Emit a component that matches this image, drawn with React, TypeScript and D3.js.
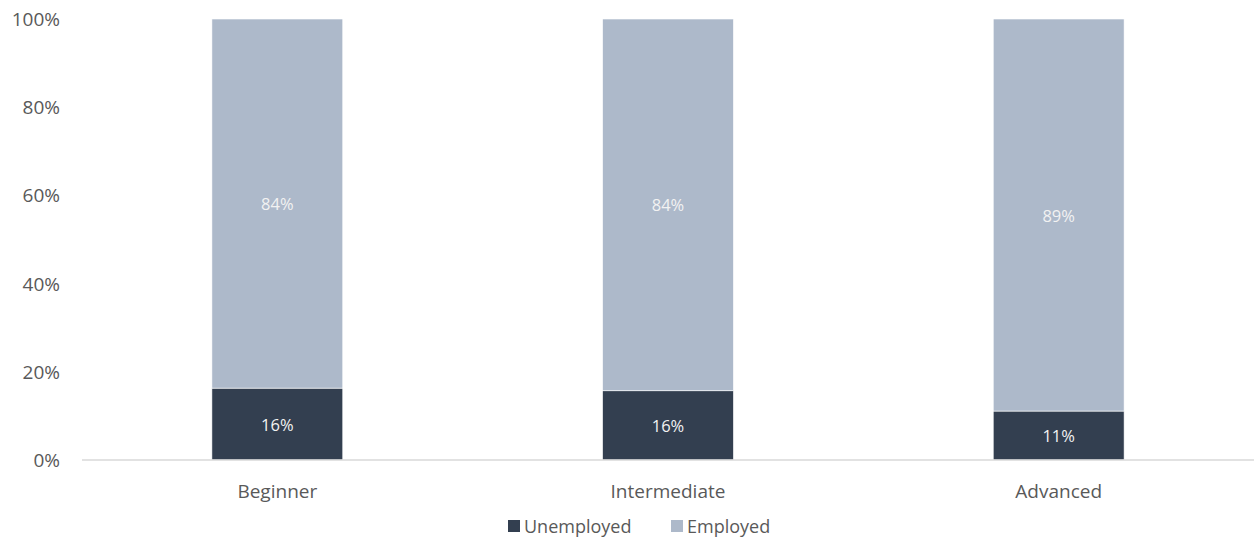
import React from "react";
import * as d3 from "d3";

const categories = ["Beginner", "Intermediate", "Advanced"];
const unemployed = [0.163, 0.157, 0.111];
const employed = [0.837, 0.843, 0.889];
const seriesNames = ["Unemployed", "Employed"];
const yTicks = [0, 0.2, 0.4, 0.6, 0.8, 1.0];

const W = 1254;
const H = 539;
const margin = { left: 82, right: 0, top: 19, bottom: 79 };
const colors = ["#333F50", "#ADB9CA"];
const FONT = "'Open Sans', 'Noto Sans', sans-serif";

export default function App() {
  const x = d3
    .scaleBand<string>()
    .domain(categories)
    .range([margin.left, W - margin.right])
    .paddingInner(0.665)
    .paddingOuter(0.3325);
  const y = d3.scaleLinear().domain([0, 1]).range([H - margin.bottom, margin.top]);
  const stackData = categories.map((c, i) => ({ cat: c, Unemployed: unemployed[i], Employed: employed[i] }));
  const stack = d3.stack<any>().keys(seriesNames)(stackData);
  const fmt = d3.format(".0%");

  return (
    <svg width={W} height={H} style={{ position: "absolute", left: 0, top: 0, fontFamily: FONT }}>
      <rect width={W} height={H} fill="#fff" />
      {stack.map((layer, li) =>
        layer.map((d, i) => {
          const bx = x(categories[i])!;
          const y0 = y(d[0]);
          const y1 = y(d[1]);
          return (
            <g key={`${li}-${i}`}>
              <rect x={bx} y={y1} width={x.bandwidth()} height={y0 - y1} fill={colors[li]} stroke="#fff" strokeWidth={0.6} />
              <text
                x={bx + x.bandwidth() / 2}
                y={(y0 + y1) / 2}
                textAnchor="middle"
                dominantBaseline="central"
                fill="#F2F2F2"
                fontSize={16.5}
              >
                {fmt(d[1] - d[0])}
              </text>
            </g>
          );
        })
      )}
      <line x1={margin.left} x2={W} y1={y(0)} y2={y(0)} stroke="#D9D9D9" strokeWidth={1.5} />
      {yTicks.map((t) => (
        <text key={t} x={60} y={y(t)} textAnchor="end" dominantBaseline="central" fill="#595959" fontSize={19}>
          {fmt(t)}
        </text>
      ))}
      {categories.map((c) => (
        <text key={c} x={x(c)! + x.bandwidth() / 2} y={491} textAnchor="middle" dominantBaseline="central" fill="#595959" fontSize={19}>
          {c}
        </text>
      ))}
      <g>
        <rect x={508} y={520} width={12} height={12} fill={colors[0]} />
        <text x={524} y={526} dominantBaseline="central" fill="#595959" fontSize={18}>{seriesNames[0]}</text>
        <rect x={671} y={520} width={12} height={12} fill={colors[1]} />
        <text x={687} y={526} dominantBaseline="central" fill="#595959" fontSize={18}>{seriesNames[1]}</text>
      </g>
    </svg>
  );
}
